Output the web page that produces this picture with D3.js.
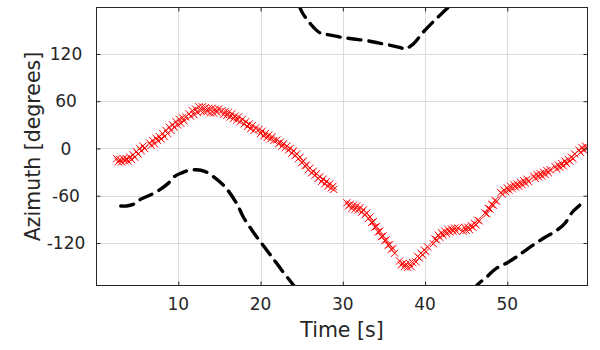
<!DOCTYPE html>
<html><head><meta charset="utf-8">
<script src="https://cdn.jsdelivr.net/npm/d3@7"></script>
<style>body{margin:0;background:#fff;}svg{display:block;font-family:"DejaVu Sans",sans-serif;}</style>
</head><body>
<svg id="c" width="600" height="350"></svg>
<script>
// ---- data ----
const xTicks = [10, 20, 30, 40, 50];
const yTicks = [-120, -60, 0, 60, 120];
const xLabel = "Time [s]";
const yLabel = "Azimuth [degrees]";

// red "x" estimates: [time s, azimuth deg]
const redPoints = [
 [2.5,-13],[2.7,-17],[2.9,-14],[3.1,-17],[3.3,-13],[3.5,-16],[3.7,-13],[3.9,-16],[4.1,-11],[4.3,-14],[4.5,-8],[4.7,-11],[4.9,-4],[5.1,-7],[5.3,0],[5.5,-3],[5.7,3],[5.9,0],
 [6.5,7],[6.7,4],[6.9,10],[7.1,6],[7.3,13],[7.5,10],[7.7,15],[7.9,12],[8.1,19],[8.3,15],[8.5,23],[8.7,19],[8.9,27],[9.1,23],[9.3,30],[9.5,27],[9.7,34],[9.9,30],[10.1,37],[10.3,32],[10.5,39],[10.7,35],[10.9,40],
 [11.3,44],[11.5,41],[11.7,48],[11.9,43],[12.1,50],[12.3,46],[12.5,53],[12.7,48],[12.9,53],[13.1,47],[13.3,52],[13.5,47],[13.7,51],[13.9,45],[14.1,51],[14.3,45],[14.5,50],[14.7,46],[14.9,50],
 [15.3,48],[15.5,43],[15.7,47],[15.9,42],[16.1,46],[16.3,40],[16.5,44],[16.7,38],[16.9,41],[17.1,36],[17.3,40],[17.5,34],
 [17.8,37],[18.0,31],[18.2,34],[18.4,28],[18.6,31],[18.8,25],[19.0,29],[19.2,23],[19.4,26],[19.8,24],[20.0,19],[20.2,22],[20.4,16],[20.6,19],[20.8,14],[21.0,17],[21.2,12],[21.4,15],[21.6,10],
 [22.0,11],[22.2,6],[22.4,8],[22.6,3],[22.8,6],[23.0,1],[23.2,3],[23.4,-2],[23.6,0],[23.8,-6],[24.0,-3],[24.2,-9],[24.4,-7],[24.6,-13],[24.8,-11],[25.0,-18],[25.2,-16],[25.4,-22],[25.6,-21],[25.8,-27],
 [26.0,-25],[26.2,-31],[26.4,-29],[26.6,-34],[26.8,-32],[27.0,-38],[27.2,-36],[27.4,-42],[27.6,-39],[27.8,-45],[28.0,-42],[28.2,-48],[28.4,-45],[28.6,-50],[28.8,-48],[28.9,-52],
 [30.5,-69],[30.7,-73],[30.9,-71],[31.1,-76],[31.3,-72],[31.5,-77],[31.7,-73],[31.9,-78],[32.1,-75],[32.3,-81],[32.5,-78],[32.7,-84],[32.9,-82],[33.1,-89],[33.3,-87],[33.5,-94],[33.7,-93],[33.9,-100],
 [34.1,-99],[34.3,-106],[34.5,-105],[34.7,-112],[34.9,-111],[35.1,-117],[35.3,-116],[35.5,-123],[35.7,-122],[35.9,-128],[36.1,-127],[36.3,-133],
 [36.9,-143],[37.1,-148],[37.3,-146],[37.5,-150],[37.7,-147],[37.9,-151],[38.1,-146],[38.3,-150],[38.5,-145],
 [38.9,-144],[39.1,-137],[39.3,-139],[39.5,-133],[39.7,-135],[39.9,-129],[40.1,-131],[40.3,-125],
 [41.0,-121],[41.2,-115],[41.4,-116],[41.6,-110],[41.8,-113],[42.0,-107],[42.2,-110],[42.4,-105],[42.6,-108],[42.8,-103],[43.0,-106],[43.2,-102],[43.4,-105],[43.6,-101],[43.8,-105],[44.0,-101],
 [44.6,-105],[44.8,-100],[45.0,-104],[45.2,-100],[45.4,-103],[45.6,-98],[45.8,-100],[46.0,-95],[46.2,-97],[46.4,-91],[46.6,-92],
 [47.3,-82],[47.5,-83],[47.7,-76],[47.9,-77],[48.1,-71],[48.3,-72],[48.5,-66],[48.7,-67],
 [49.2,-56],[49.4,-58],[49.6,-53],[49.8,-55],[50.0,-50],[50.2,-53],[50.4,-48],[50.6,-51],[50.8,-46],[51.0,-49],[51.2,-45],[51.4,-48],[51.6,-43],[51.8,-46],[52.0,-41],[52.2,-44],[52.4,-39],[52.6,-42],
 [53.2,-35],[53.4,-38],[53.6,-33],[53.8,-36],[54.0,-32],[54.2,-35],[54.4,-30],[54.6,-33],[54.8,-28],[55.0,-31],[55.2,-27],
 [55.8,-23],[56.0,-26],[56.2,-21],[56.4,-24],[56.6,-19],[56.8,-22],[57.0,-16],[57.2,-19],[57.4,-14],[57.6,-16],[57.8,-11],[58.0,-13],[58.2,-7],
 [58.7,-2],[58.9,-5],[59.1,1],[59.3,-2],[59.5,3],[59.7,0]
];

// black dashed track, three wrapped pieces
const blackSeg1 = [[3.0,-73],[3.7,-73],[4.5,-71],[5.5,-64],[6.6,-59],[7.8,-52],[8.8,-44],[9.6,-35],[10.4,-31],[11.2,-28],[12.2,-27],[13.2,-29],[14.3,-36],[15.7,-49],[17.1,-70],[17.9,-87],[19.1,-106],[20.3,-123],[21.4,-138],[22.6,-155],[24.1,-175],[24.5,-181]];
const blackSeg2 = [[24.7,181],[25.1,172],[26.0,159],[27.2,147],[28.5,144],[29.9,141],[31.3,139],[32.9,137],[34.3,134],[35.8,131],[37.0,128],[37.6,126],[38.1,129],[38.6,133],[39.8,148],[41.0,161],[42.0,171],[43.0,181]];
const blackSeg3 = [[45.9,-181],[46.2,-175],[47.5,-163],[48.7,-152],[50.0,-145],[51.2,-137],[52.8,-125],[54.4,-114],[56.0,-104],[57.0,-95],[57.9,-81],[58.5,-75],[58.8,-72]];

// ---- chart ----
const L = 96.5, R = 587.5, T = 7.5, B = 285.5;
const ink = "#262626";
const svg = d3.select("#c");
const x = d3.scaleLinear().domain([0.05, 59.75]).range([L, R]);
const y = d3.scaleLinear().domain([-174, 179]).range([B, T]);

svg.append("defs").append("clipPath").attr("id","clip")
  .append("rect").attr("x",L).attr("y",T).attr("width",R-L).attr("height",B-T);

// grid
const g = svg.append("g");
g.selectAll("line.gx").data(xTicks).join("line")
  .attr("x1",d=>Math.round(x(d))+0.5).attr("x2",d=>Math.round(x(d))+0.5)
  .attr("y1",T).attr("y2",B).attr("stroke","#dcdcdc").attr("stroke-width",1);
g.selectAll("line.gy").data(yTicks).join("line")
  .attr("y1",d=>Math.round(y(d))+0.5).attr("y2",d=>Math.round(y(d))+0.5)
  .attr("x1",L).attr("x2",R).attr("stroke","#dcdcdc").attr("stroke-width",1);

// black dashed line
const line = d3.line().x(d=>x(d[0])).y(d=>y(d[1])).curve(d3.curveCatmullRom);
const pl = svg.append("g").attr("clip-path","url(#clip)");
[blackSeg1, blackSeg2, blackSeg3].forEach(seg=>{
  pl.append("path").attr("d", line(seg)).attr("fill","none")
    .attr("stroke","#000").attr("stroke-width",3.4)
    .attr("stroke-dasharray","13 8").attr("stroke-linecap","round").attr("stroke-linejoin","round");
});

// red x markers
const s = 3.6;
pl.append("g").selectAll("path").data(redPoints).join("path")
  .attr("d", d=>{const cx=x(d[0]), cy=y(d[1]);
     return `M${cx-s},${cy-s}L${cx+s},${cy+s}M${cx-s},${cy+s}L${cx+s},${cy-s}`;})
  .attr("stroke","#ff0000").attr("stroke-width",1).attr("fill","none");

// axes via d3 axis (inward ticks, all sides)
const tl = 4;
const ax = (gen, tr) => {
  const a = svg.append("g").attr("transform", tr).call(gen);
  a.select(".domain").remove();
  a.selectAll("line").attr("stroke", ink);
  a.selectAll("text").remove();
  return a;
};
ax(d3.axisBottom(x).tickValues(xTicks).tickSize(-tl), `translate(0,${B})`);
ax(d3.axisTop(x).tickValues(xTicks).tickSize(-tl), `translate(0,${T})`);
ax(d3.axisLeft(y).tickValues(yTicks).tickSize(-tl), `translate(${L},0)`);
ax(d3.axisRight(y).tickValues(yTicks).tickSize(-tl), `translate(${R},0)`);

svg.append("rect").attr("x",L).attr("y",T).attr("width",R-L).attr("height",B-T)
  .attr("fill","none").attr("stroke",ink).attr("stroke-width",1);

// tick labels
svg.append("g").selectAll("text").data(xTicks).join("text")
  .attr("x",d=>x(d)).attr("y",310).attr("text-anchor","middle")
  .attr("font-size",17).attr("fill",ink).text(d=>d);
svg.append("g").selectAll("text").data(yTicks).join("text")
  .attr("x",66).attr("y",d=>y(d)).attr("dy","0.36em").attr("text-anchor","middle")
  .attr("font-size",17).attr("fill",ink).text(d=>d);

// axis labels
svg.append("text").attr("x",(L+R)/2).attr("y",337).attr("text-anchor","middle")
  .attr("font-size",20.5).attr("fill",ink).text(xLabel);
svg.append("text").attr("transform",`translate(40,${(T+B)/2}) rotate(-90)`)
  .attr("text-anchor","middle").attr("font-size",20.5).attr("fill",ink).text(yLabel);
</script>
</body></html>
